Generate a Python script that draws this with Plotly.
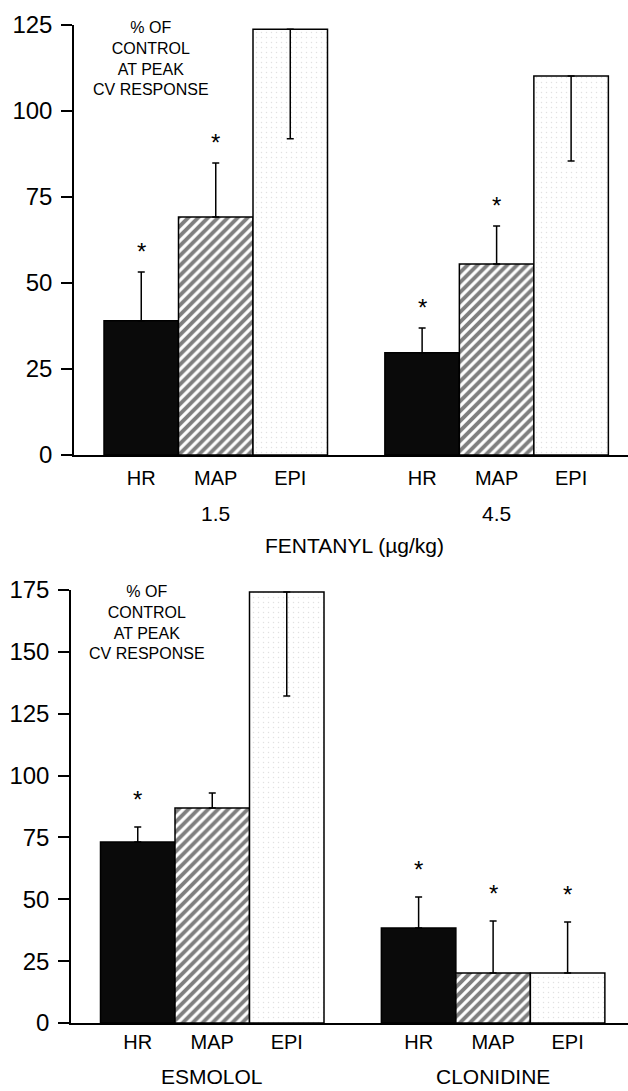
import plotly.graph_objects as go

# ---------------- data ----------------
categories = ["HR", "MAP", "EPI"]

fent_15 = [39.0, 69.2, 123.8]
fent_15_err = [14.2, 15.7, 31.9]
fent_45 = [29.7, 55.5, 110.2]
fent_45_err = [7.2, 11.1, 24.7]
esmolol = [73.2, 86.9, 174.2]
esmolol_err = [6.0, 6.1, 42.0]
clonidine = [38.4, 20.2, 20.2]
clonidine_err = [12.5, 21.0, 20.6]

# significance (asterisk) flags
fent_15_sig = [True, True, False]
fent_45_sig = [True, True, False]
esmolol_sig = [True, False, False]
clonidine_sig = [True, True, True]

# error bar drawn downward (inside the bar)
fent_15_down = [False, False, True]
fent_45_down = [False, False, True]
esmolol_down = [False, False, True]
clonidine_down = [False, False, False]

top_group_labels = ["1.5", "4.5"]
top_title = "FENTANYL (µg/kg)"
bottom_group_labels = ["ESMOLOL", "CLONIDINE"]
top_ticks = [0, 25, 50, 75, 100, 125]
bottom_ticks = [0, 25, 50, 75, 100, 125, 150, 175]
inset_lines = ["% OF", "CONTROL", "AT PEAK", "CV RESPONSE"]

# ---------------- layout geometry (pixels) ----------------
W, H = 628, 1091
BW = 74.5            # pixels per bar
GROUP_OFF = 3.77     # offset of second group, in bar widths
FONT = "Liberation Sans, Arial, Helvetica, sans-serif"


def py(p):
    return 1 - p / H


def px(p):
    return p / W


styles = [
    dict(color="#0a0a0a", pattern=None),
    dict(color="white", pattern=dict(shape="/", fgcolor="black", bgcolor="white", size=7, solidity=0.55)),
    dict(color="white", pattern=dict(shape=".", fgcolor="#c4c4c4", bgcolor="white", size=5, solidity=0.07)),
]

panels = [
    dict(xa="x", ya="y", groups=[(fent_15, fent_15_err, fent_15_sig, fent_15_down),
                                 (fent_45, fent_45_err, fent_45_sig, fent_45_down)],
         ax_left=74, bar_left=104, y0=455, ytop=25, ymax=125, ticks=top_ticks,
         star_shift=5, lab_standoff=4, inset_y=58.5, inset_x=151, group_y=513),
    dict(xa="x2", ya="y2", groups=[(esmolol, esmolol_err, esmolol_sig, esmolol_down),
                                   (clonidine, clonidine_err, clonidine_sig, clonidine_down)],
         ax_left=71, bar_left=100.5, y0=1023, ytop=590, ymax=175, ticks=bottom_ticks,
         star_shift=12, lab_standoff=0, inset_y=622.5, inset_x=147, group_y=1076),
]

fig = go.Figure()
annotations = []

for p in panels:
    offsets = [0, GROUP_OFF]
    for i, cat in enumerate(categories):
        xs, ys, up, dn = [], [], [], []
        for g, (vals, errs, sigs, downs) in enumerate(p["groups"]):
            xs.append(offsets[g] + i)
            ys.append(vals[i])
            if downs[i]:
                up.append(0)
                dn.append(errs[i])
            else:
                up.append(errs[i])
                dn.append(0)
            if sigs[i]:
                annotations.append(dict(
                    x=offsets[g] + i, y=vals[i] + (0 if downs[i] else errs[i]),
                    xref=p["xa"], yref=p["ya"], text="*", showarrow=False,
                    yanchor="bottom", yshift=p["star_shift"],
                    font=dict(size=24, color="black", family=FONT)))
        st = styles[i]
        marker = dict(color=st["color"], line=dict(color="black", width=1.5))
        if st["pattern"]:
            marker["pattern"] = st["pattern"]
        fig.add_trace(go.Bar(
            x=xs, y=ys, width=1, marker=marker, xaxis=p["xa"], yaxis=p["ya"],
            error_y=dict(type="data", symmetric=False, array=up, arrayminus=dn,
                         color="black", thickness=1.5, width=3.5),
            showlegend=False, hoverinfo="skip"))

layout = dict(
    width=W, height=H, margin=dict(l=0, r=0, t=0, b=0, pad=0, autoexpand=False),
    paper_bgcolor="white", plot_bgcolor="white", barmode="overlay",
    font=dict(family=FONT, color="black"),
)

for k, p in enumerate(panels):
    n = "" if k == 0 else "2"
    plot_w = W - p["ax_left"]
    r0 = -0.5 - (p["bar_left"] - p["ax_left"]) / BW
    xr = [r0, r0 + plot_w / BW]
    ydom = [py(p["y0"]), py(p["ytop"])]
    centers = [0, 1, 2, GROUP_OFF, GROUP_OFF + 1, GROUP_OFF + 2]
    layout["xaxis" + n] = dict(
        domain=[px(p["ax_left"]), 1], range=xr, anchor="y" + n,
        showline=True, linecolor="black", linewidth=1.5, showgrid=False, zeroline=False,
        tickmode="array", tickvals=centers, ticktext=categories * 2, ticks="",
        ticklabelstandoff=p["lab_standoff"], tickfont=dict(size=20, family=FONT),
        fixedrange=True)
    layout["yaxis" + n] = dict(
        domain=ydom, range=[0, p["ymax"]], anchor="x" + n,
        showline=True, linecolor="black", linewidth=1.5, showgrid=False, zeroline=False,
        tickmode="array", tickvals=p["ticks"], ticks="outside", ticklen=11, tickwidth=1.5,
        tickcolor="black", tickfont=dict(size=24, family=FONT), ticklabelstandoff=4)
    # inside half of the crossing ticks
    layout["yaxis" + str(3 + k)] = dict(
        overlaying="y" + n, anchor="x" + n, range=[0, p["ymax"]], domain=ydom,
        tickmode="array", tickvals=p["ticks"], ticks="inside", ticklen=11, tickwidth=1.5,
        tickcolor="black", showticklabels=False, showline=False, showgrid=False, zeroline=False)
    # dose / drug labels under the middle bar of each group
    labels = top_group_labels if k == 0 else bottom_group_labels
    for g, lab in enumerate(labels):
        annotations.append(dict(
            x=[0, GROUP_OFF][g] + 1, xref="x" + n, y=py(p["group_y"]), yref="paper",
            text=lab, showarrow=False, yanchor="middle", font=dict(size=21, family=FONT)))
    # inset text
    annotations.append(dict(
        x=px(p["inset_x"]), y=py(p["inset_y"]), xref="paper", yref="paper",
        text="<br>".join(inset_lines), showarrow=False, align="center",
        xanchor="center", yanchor="middle", font=dict(size=16, family=FONT)))

# axis-break mark on the lower panel's baseline
layout["xaxis5"] = dict(
    overlaying="x2", anchor="y2", range=layout["xaxis2"]["range"], domain=layout["xaxis2"]["domain"],
    tickmode="array", tickvals=[(2.5 + GROUP_OFF - 0.5) / 2], ticks="inside", ticklen=10,
    tickwidth=1.5, tickcolor="black", showticklabels=False, showline=False, showgrid=False,
    zeroline=False)

annotations.append(dict(
    x=px(354.5), y=py(545), xref="paper", yref="paper", text=top_title, showarrow=False,
    yanchor="middle", font=dict(size=21, family=FONT)))

layout["annotations"] = annotations
fig.update_layout(**layout)
fig.write_html("out.html", config=dict(displayModeBar=False))
